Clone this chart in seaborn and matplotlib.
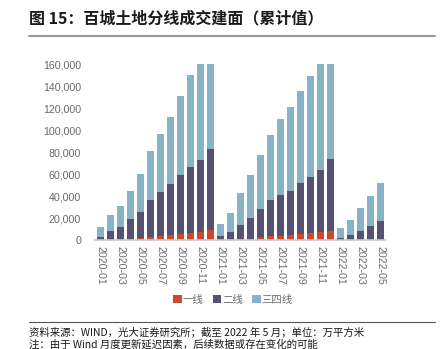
import numpy as np
import pandas as pd
import matplotlib
matplotlib.use("Agg")
import matplotlib.pyplot as plt
import seaborn as sns
from matplotlib.lines import Line2D
from matplotlib.patches import Patch

months = [f"{y}-{m:02d}" for y, ms in ((2020, range(1, 13)), (2021, range(1, 13)), (2022, range(1, 6))) for m in ms]

tier1 = [200, 500, 500, 1000, 2000, 3000, 4000, 5000, 5800, 6400, 7600, 9000,
         300, 500, 600, 1200, 2400, 3600, 4000, 4200, 5200, 6400, 7600, 8500,
         300, 500, 700, 900, 1100]
tier2 = [2800, 7700, 11500, 18000, 23800, 33000, 39600, 46000, 53600, 60300, 65400, 73700,
         3300, 7100, 13400, 18500, 25600, 33100, 37000, 40300, 46800, 51200, 56000, 64800,
         1800, 4300, 7800, 12100, 16500]
tier34 = [8500, 14500, 19000, 26000, 34200, 45000, 53100, 60500, 71600, 83000, 95000, 102300,
          10900, 17400, 29000, 39300, 49000, 58800, 69000, 76500, 83800, 91200, 101400, 106700,
          8500, 13100, 20300, 27300, 33900]
series_names = ["一线", "二线", "三四线"]
colors = ["#D0482A", "#565072", "#88B3C7"]
yticks = [0, 20000, 40000, 60000, 80000, 100000, 120000, 140000, 160000]

df = pd.DataFrame({"month": months, "t1": tier1, "t2": tier2, "t34": tier34})
df["c1"] = df["t1"]
df["c2"] = df["t1"] + df["t2"]
df["c3"] = df["t1"] + df["t2"] + df["t34"]

sns.set_style("white")
plt.rcParams["font.family"] = ["Liberation Sans", "Noto Sans CJK SC", "DejaVu Sans"]

fig = plt.figure(figsize=(4.4, 3.49), dpi=100)
ax = fig.add_axes([95 / 440, 109 / 349, 290 / 440, 176 / 349])

for col, c in zip(["c3", "c2", "c1"], colors[::-1]):
    sns.barplot(data=df, x="month", y=col, color=c, width=0.7, ax=ax,
                saturation=1, linewidth=0, order=months)

ax.set_xlim(-0.5, len(months) - 0.5)
ax.set_ylim(0, 160000)
ax.set_yticks(yticks)
ax.set_yticklabels([f"{v:,}" for v in yticks])
ax.set_xticks(range(0, len(months), 2))
ax.set_xticklabels(months[::2], rotation=270)
ax.set_xlabel("")
ax.set_ylabel("")
ax.tick_params(axis="both", length=0, labelsize=7.7, labelcolor="#6A6A6A")
ax.tick_params(axis="y", pad=10)
ax.tick_params(axis="x", pad=4)
for s in ["top", "right", "left"]:
    ax.spines[s].set_visible(False)
ax.spines["bottom"].set_color("#C8C8C8")
ax.spines["bottom"].set_linewidth(1.2)
ax.grid(False)

handles = [Patch(facecolor=c, edgecolor="none") for c in colors]
fig.legend(handles, series_names, loc="center", bbox_to_anchor=(233 / 440, 1 - 300 / 349),
           ncol=3, frameon=False, handlelength=0.8, handleheight=0.8,
           handletextpad=0.1, columnspacing=0.9, labelcolor="#6A6A6A",
           prop={"family": ["Noto Sans CJK SC"], "size": 7.5})

fig.text(29 / 440, 1 - 18 / 349, "图 15：百城土地分线成交建面（累计值）", fontsize=11.5,
         fontweight="bold", family=["Noto Sans CJK SC"], va="center", ha="left", color="#1a1a1a")
fig.add_artist(Line2D([29 / 440, 435 / 440], [1 - 35.5 / 349] * 2, color="#999999", lw=1.6))
fig.add_artist(Line2D([29 / 440, 435 / 440], [1 - 321.5 / 349] * 2, color="#555555", lw=0.8))
fig.text(29 / 440, 1 - 331.5 / 349, "资料来源：WIND，光大证券研究所；截至 2022 年 5 月；单位：万平方米",
         fontsize=7.5, family=["Noto Sans CJK SC"], va="center", ha="left", color="#1a1a1a")
fig.text(29 / 440, 1 - 344 / 349, "注：由于 Wind 月度更新延迟因素，后续数据或存在变化的可能",
         fontsize=7.5, family=["Noto Sans CJK SC"], va="center", ha="left", color="#1a1a1a")

fig.savefig("out.png", dpi=100)
